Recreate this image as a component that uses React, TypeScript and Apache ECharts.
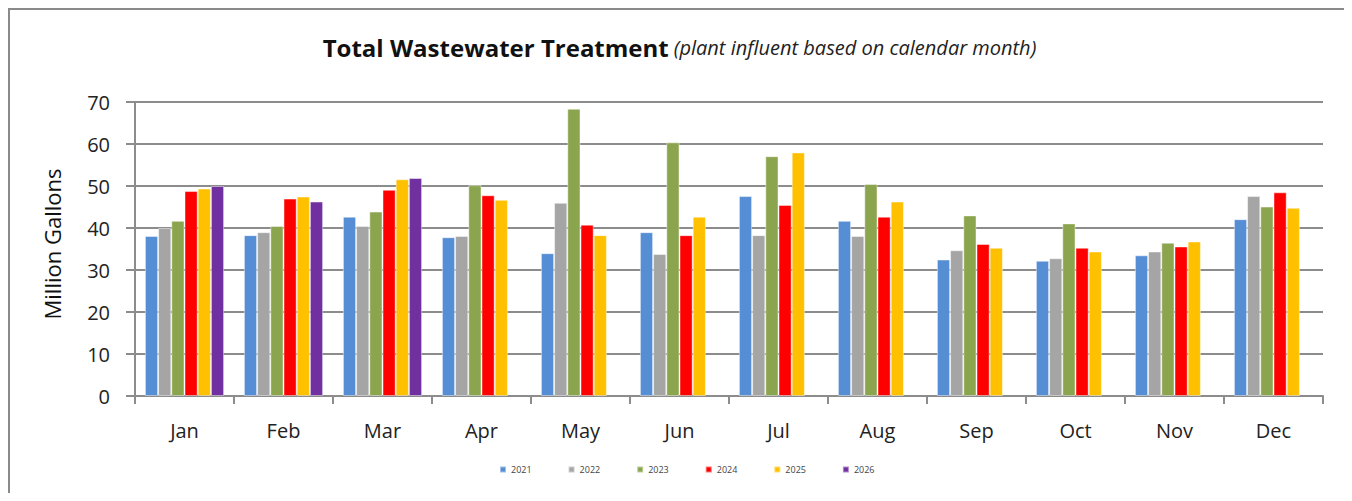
import React, { useEffect, useRef } from "react";
import * as echarts from "echarts";

const months = ["Jan", "Feb", "Mar", "Apr", "May", "Jun", "Jul", "Aug", "Sep", "Oct", "Nov", "Dec"];
const years = ["2021", "2022", "2023", "2024", "2025", "2026"];
const colors = ["#558ED5", "#A5A5A5", "#8BA54E", "#FF0000", "#FFC000", "#7030A0"];

const v2021 = [38.1, 38.3, 42.7, 37.8, 34.0, 39.0, 47.6, 41.7, 32.5, 32.2, 33.5, 42.1];
const v2022 = [40.0, 39.0, 40.5, 38.1, 46.0, 33.8, 38.3, 38.1, 34.7, 32.8, 34.4, 47.6];
const v2023 = [41.7, 40.5, 43.9, 50.2, 68.4, 60.4, 57.1, 50.5, 43.0, 41.1, 36.5, 45.1];
const v2024 = [48.8, 47.0, 49.1, 47.8, 40.8, 38.3, 45.5, 42.7, 36.2, 35.3, 35.6, 48.5];
const v2025 = [49.4, 47.5, 51.6, 46.7, 38.3, 42.7, 58.0, 46.3, 35.3, 34.4, 36.8, 44.8];
const v2026 = [50.0, 46.3, 51.9, null, null, null, null, null, null, null, null, null];

const seriesValues = [v2021, v2022, v2023, v2024, v2025, v2026];

const FONT = "'Open Sans', Lato, sans-serif";

export default function App() {
  const ref = useRef<HTMLDivElement>(null);
  useEffect(() => {
    if (!ref.current) return;
    const chart = echarts.init(ref.current, null, { renderer: "svg" });
    chart.setOption({
      animation: false,
      backgroundColor: "#ffffff",
      title: {
        text: "{b|Total Wastewater Treatment} {i|(plant influent based on calendar month)}",
        left: "center",
        top: 20,
        textStyle: {
          rich: {
            b: { fontFamily: FONT, fontWeight: "bold", fontSize: 24, color: "#111" },
            i: { fontFamily: FONT, fontWeight: "normal", fontStyle: "italic", fontSize: 20, color: "#222" },
          },
        },
      },
      legend: {
        data: years,
        left: 484,
        top: 450,
        itemWidth: 6,
        itemHeight: 6,
        itemGap: 36,
        icon: "rect",
        textStyle: { fontFamily: FONT, fontSize: 9, color: "#444" },
      },
      grid: { left: 125, right: 26, top: 92, bottom: 97 },
      xAxis: {
        type: "category",
        data: months,
        axisLine: { show: true, lineStyle: { color: "#8c8c8c", width: 2 } },
        axisTick: { show: true, length: 8, lineStyle: { color: "#8c8c8c", width: 2 } },
        axisLabel: { fontFamily: FONT, fontSize: 20, color: "#222", margin: 24 },
      },
      yAxis: {
        type: "value",
        min: 0,
        max: 70,
        interval: 10,
        name: "Million Gallons",
        nameLocation: "middle",
        nameGap: 72,
        nameRotate: 90,
        nameTextStyle: { fontFamily: FONT, fontSize: 22, color: "#111", padding: [0, 0, 0, 10] },
        axisLine: { show: true, lineStyle: { color: "#8c8c8c", width: 2 } },
        axisTick: { show: true, inside: false, length: 9, lineStyle: { color: "#8c8c8c", width: 2 } },
        axisLabel: { fontFamily: FONT, fontSize: 20, color: "#222", margin: 25 },
        splitLine: { show: true, lineStyle: { color: "#8c8c8c", width: 2 } },
      },
      series: years.map((y, i) => ({
        name: y,
        type: "bar",
        data: seriesValues[i],
        barGap: "0%",
        barCategoryGap: "20%",
        itemStyle: { color: colors[i], borderColor: "rgba(255,255,255,0.45)", borderWidth: 1 },
      })),
    });
    return () => chart.dispose();
  }, []);
  return (
    <div
      style={{
        width: 1342,
        height: 485,
        boxSizing: "border-box",
        borderTop: "2px solid #8a8a8a",
        borderLeft: "2px solid #8a8a8a",
        borderRight: "1px solid #cfcfcf",
        background: "#fff",
      }}
    >
      <div ref={ref} style={{ width: "100%", height: "100%" }} />
    </div>
  );
}
